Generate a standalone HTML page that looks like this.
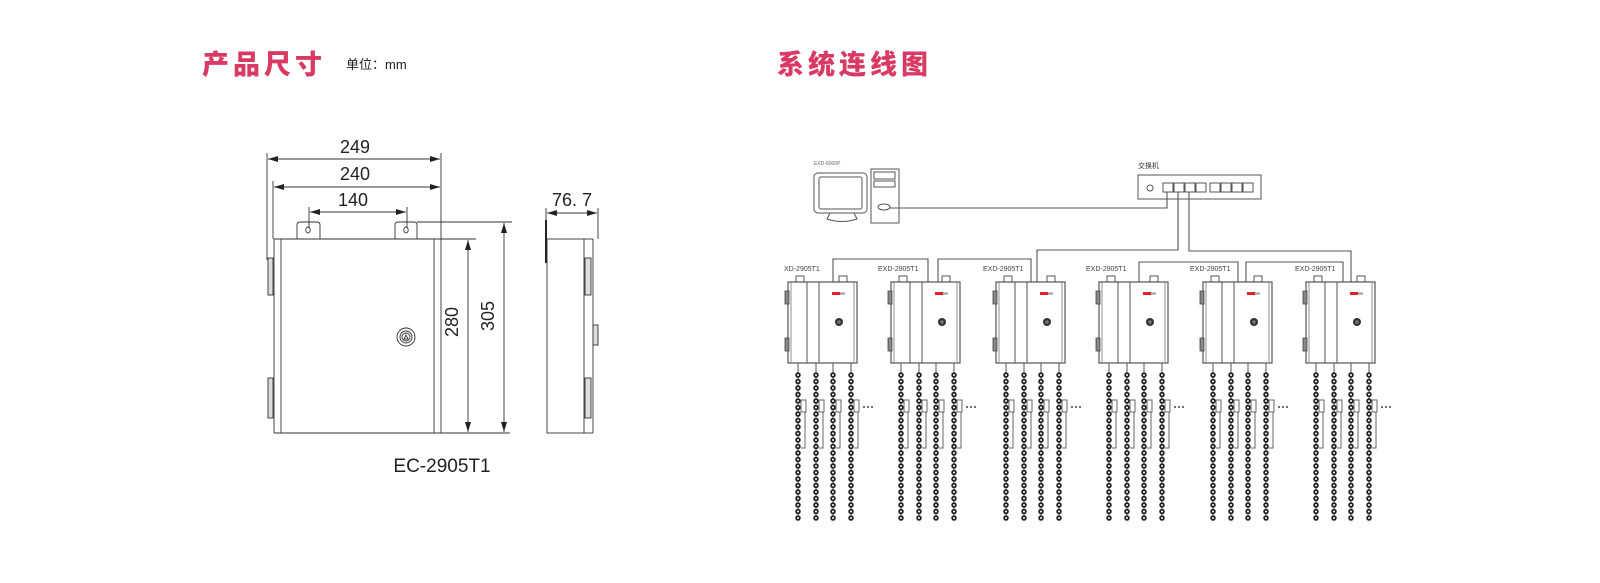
<!DOCTYPE html>
<html><head><meta charset="utf-8"><style>
html,body{margin:0;padding:0;background:#fff;}
body{width:1600px;height:583px;overflow:hidden;position:relative;}
svg{position:absolute;left:0;top:0;}
</style></head><body>
<svg width="1600" height="583" viewBox="0 0 1600 583" xmlns="http://www.w3.org/2000/svg">
<defs>
<marker id="ar" viewBox="0 0 10 6" refX="10" refY="3" markerWidth="10" markerHeight="6" orient="auto-start-reverse" markerUnits="userSpaceOnUse">
<path d="M0,0 L10,3 L0,6 z" fill="#222"/>
</marker>
<g id="chain">
<line x1="0" y1="93" x2="0" y2="238" stroke="#555" stroke-width="1"/>
<line x1="0" y1="93" x2="0" y2="238" stroke="#222" stroke-width="5.5" stroke-linecap="round" stroke-dasharray="0 6.5"/>
<line x1="0" y1="93" x2="0" y2="238" stroke="#fff" stroke-width="2" stroke-linecap="round" stroke-dasharray="0 6.5"/>
</g>
<g id="ctrl">
<rect x="8" y="-6" width="8" height="6" fill="#fff" stroke="#555" stroke-width="1"/>
<rect x="51" y="-6" width="8" height="6" fill="#fff" stroke="#555" stroke-width="1"/>
<rect x="0" y="0" width="69" height="81" fill="#fff" stroke="#555" stroke-width="1.2"/>
<line x1="3" y1="0" x2="3" y2="81" stroke="#777" stroke-width="0.8"/>
<line x1="66" y1="0" x2="66" y2="81" stroke="#777" stroke-width="0.8"/>
<line x1="19" y1="0" x2="19" y2="81" stroke="#555" stroke-width="1"/>
<line x1="31" y1="0" x2="31" y2="81" stroke="#555" stroke-width="1"/>
<rect x="-3" y="9" width="4" height="13" fill="#888" stroke="#444" stroke-width="0.8"/>
<rect x="-3" y="56" width="4" height="13" fill="#888" stroke="#444" stroke-width="0.8"/>
<rect x="44" y="10" width="8" height="3" fill="#e0202a"/>
<rect x="52" y="10.5" width="5" height="2" fill="#999"/>
<circle cx="51" cy="40" r="4" fill="#333"/>
<circle cx="51" cy="40" r="1.8" fill="#777"/>
<g stroke="#555" stroke-width="1" fill="none">
<line x1="10" y1="81" x2="10" y2="92"/><line x1="28" y1="81" x2="28" y2="92"/>
<line x1="45" y1="81" x2="45" y2="92"/><line x1="63" y1="81" x2="63" y2="92"/>
</g>
<use href="#chain" x="10"/><use href="#chain" x="28"/><use href="#chain" x="45"/><use href="#chain" x="63"/>
<g stroke="#666" stroke-width="1" fill="#fff">
<rect x="13" y="118" width="5" height="12"/><polyline points="17,130 17,166 13,166" fill="none"/>
<rect x="31" y="118" width="5" height="12"/><polyline points="35,130 35,166 31,166" fill="none"/>
<rect x="48" y="118" width="5" height="12"/><polyline points="52,130 52,166 48,166" fill="none"/>
<rect x="66" y="118" width="5" height="12"/><polyline points="70,130 70,166 66,166" fill="none"/>
</g>
<g fill="#444"><circle cx="76" cy="125" r="1"/><circle cx="80" cy="125" r="1"/><circle cx="84" cy="125" r="1"/></g>
</g>
</defs>

<text x="202" y="74" font-family="'Noto Sans CJK SC',sans-serif" font-weight="900" font-size="27" letter-spacing="4" fill="#d93a63">产品尺寸</text>
<text x="346" y="69" font-family="'Liberation Sans','Noto Sans CJK SC',sans-serif" font-size="13" fill="#222">单位：mm</text>
<text x="777" y="74" font-family="'Noto Sans CJK SC',sans-serif" font-weight="900" font-size="27" letter-spacing="4" fill="#d93a63">系统连线图</text>

<g stroke="#333" stroke-width="0.9" fill="none">
<line x1="267" y1="153" x2="267" y2="260"/>
<line x1="441" y1="153" x2="441" y2="433"/>
<line x1="273" y1="181" x2="273" y2="239"/>
<line x1="309" y1="207" x2="309" y2="228"/>
<line x1="407" y1="207" x2="407" y2="228"/>
<line x1="268" y1="159" x2="440" y2="159" marker-start="url(#ar)" marker-end="url(#ar)"/>
<line x1="274" y1="187" x2="440" y2="187" marker-start="url(#ar)" marker-end="url(#ar)"/>
<line x1="310" y1="212" x2="406" y2="212" marker-start="url(#ar)" marker-end="url(#ar)"/>
<path d="M297,239 V225 Q297,222 300,222 H317 Q320,222 320,225 V239"/>
<path d="M395,239 V225 Q395,222 398,222 H414 Q417,222 417,225 V239"/>
<ellipse cx="308" cy="230" rx="2.2" ry="3"/>
<ellipse cx="406" cy="230" rx="2.2" ry="3"/>
<line x1="274" y1="239" x2="476" y2="239"/>
<line x1="417" y1="222" x2="512" y2="222"/>
<line x1="274" y1="239" x2="274" y2="433"/>
<line x1="281" y1="239" x2="281" y2="433"/>
<line x1="434" y1="239" x2="434" y2="433"/>
<line x1="274" y1="433" x2="510" y2="433"/>
<rect x="268" y="258" width="5" height="37" fill="#ddd"/>
<rect x="268" y="378" width="5" height="40" fill="#ddd"/>
<line x1="468" y1="240" x2="468" y2="432" marker-start="url(#ar)" marker-end="url(#ar)"/>
<line x1="504" y1="223" x2="504" y2="432" marker-start="url(#ar)" marker-end="url(#ar)"/>
<circle cx="406" cy="337" r="9"/><circle cx="406" cy="337" r="6"/><circle cx="406" cy="337" r="4"/>
<path d="M404,339 L406,335 L408,339 z"/>
<line x1="546" y1="208" x2="546" y2="239"/>
<line x1="598" y1="208" x2="598" y2="239"/>
<line x1="547" y1="213" x2="597" y2="213" marker-start="url(#ar)" marker-end="url(#ar)"/>
<rect x="547" y="239" width="37" height="194"/>
<line x1="584" y1="239" x2="593" y2="239"/>
<line x1="593" y1="239" x2="593" y2="433"/>
<line x1="584" y1="433" x2="593" y2="433"/>
<rect x="585" y="258" width="6" height="37" fill="#ddd"/>
<rect x="585" y="378" width="6" height="40" fill="#ddd"/>
<rect x="593" y="325" width="5" height="20" fill="#ddd"/>
</g>
<line x1="546" y1="220" x2="546" y2="263" stroke="#222" stroke-width="2"/>
<g font-family="'Liberation Sans',sans-serif" font-size="18" fill="#222" text-anchor="middle">
<text x="355" y="153">249</text>
<text x="355" y="180">240</text>
<text x="353" y="206">140</text>
<text x="572" y="206">76. 7</text>
<text transform="translate(458,322) rotate(-90)">280</text>
<text transform="translate(494,316) rotate(-90)">305</text>
<text x="442" y="472" font-size="19">EC-2905T1</text>
</g>

<text x="814" y="165" font-family="'Liberation Sans',sans-serif" font-size="5" fill="#666">EXD-6000P</text>
<g stroke="#555" stroke-width="1" fill="#fff">
<rect x="814" y="173" width="53" height="40" rx="4"/>
<rect x="819" y="177" width="43" height="32" rx="2"/>
<path d="M830,213 L827,219 Q842,224 857,219 L854,213 z"/>
<rect x="871" y="169" width="28" height="54"/>
<rect x="874" y="172" width="21" height="7"/>
<rect x="874" y="181" width="21" height="6"/>
<ellipse cx="884" cy="207" rx="6" ry="3"/>
</g>
<text x="1138" y="168" font-family="'Noto Sans CJK SC',sans-serif" font-size="7" fill="#333">交换机</text>
<g stroke="#555" stroke-width="1" fill="#fff">
<rect x="1138" y="175" width="123" height="24"/>
<circle cx="1150" cy="188" r="3"/>
<rect x="1163" y="183" width="10" height="9"/><rect x="1174" y="183" width="10" height="9"/>
<rect x="1185" y="183" width="10" height="9"/><rect x="1196" y="183" width="10" height="9"/>
<rect x="1210" y="183" width="10" height="9"/><rect x="1221" y="183" width="10" height="9"/>
<rect x="1232" y="183" width="10" height="9"/><rect x="1243" y="183" width="10" height="9"/>
</g>
<g stroke="#555" stroke-width="1.1" fill="none">
<polyline points="890,208 1167,208 1167,192"/>
<polyline points="1178,192 1178,250 1037,250 1037,282"/>
<polyline points="1189,192 1189,251 1351,251 1351,282"/>
<polyline points="833,282 833,259 928,259 928,282"/>
<polyline points="938,282 938,259 1031,259 1031,282"/>
<polyline points="1139,282 1139,262 1238,262 1238,282"/>
<polyline points="1246,282 1246,262 1343,262 1343,282"/>
</g>
<use href="#ctrl" transform="translate(788,282)"/>
<use href="#ctrl" transform="translate(891,282)"/>
<use href="#ctrl" transform="translate(996,282)"/>
<use href="#ctrl" transform="translate(1099,282)"/>
<use href="#ctrl" transform="translate(1203,282)"/>
<use href="#ctrl" transform="translate(1306,282)"/>
<g font-family="'Liberation Sans',sans-serif" font-size="7" fill="#444">
<text x="784" y="271">XD-2905T1</text>
<text x="878" y="271">EXD-2905T1</text>
<text x="983" y="271">EXD-2905T1</text>
<text x="1086" y="271">EXD-2905T1</text>
<text x="1190" y="271">EXD-2905T1</text>
<text x="1295" y="271">EXD-2905T1</text>
</g>
</svg>
</body></html>
